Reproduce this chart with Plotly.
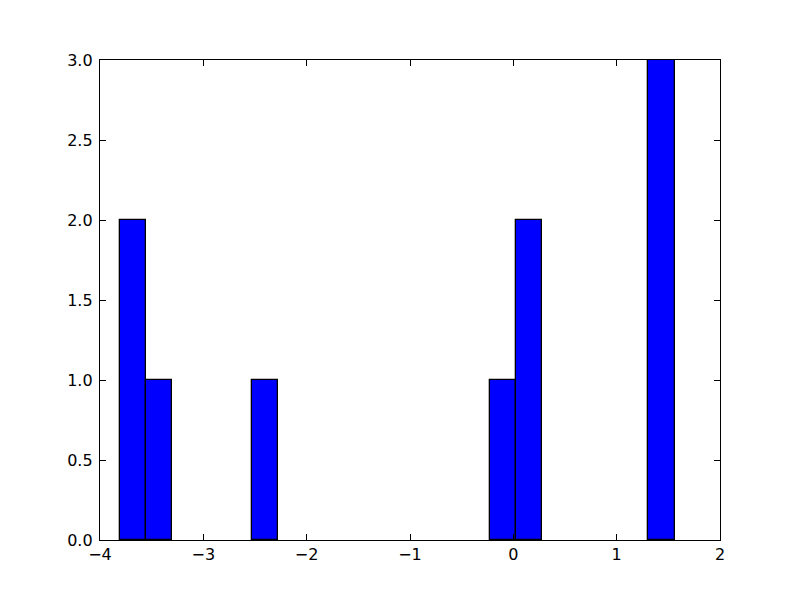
import plotly.graph_objects as go

# Histogram data: 21 equal bins
bin_start = -3.81
bin_end = 1.56
counts = [2, 1, 0, 0, 0, 1, 0, 0, 0, 0, 0, 0, 0, 0, 1, 2, 0, 0, 0, 0, 3]

x_ticks = [-4, -3, -2, -1, 0, 1, 2]
y_ticks = [0.0, 0.5, 1.0, 1.5, 2.0, 2.5, 3.0]

n = len(counts)
width = (bin_end - bin_start) / n
centers = [bin_start + (i + 0.5) * width for i in range(n)]
xs = [c for c, k in zip(centers, counts) if k > 0]
ys = [k for k in counts if k > 0]

fig = go.Figure(go.Bar(
    x=xs, y=ys, width=width,
    marker=dict(color="#0000ff", line=dict(color="black", width=1.3)),
))

axis_common = dict(
    showline=True, linecolor="black", linewidth=1.3, mirror="ticks",
    ticks="inside", ticklen=6, tickcolor="black", tickwidth=1,
    showgrid=False, zeroline=False,
    tickfont=dict(family="DejaVu Sans", size=16, color="black"),
)

fig.update_layout(
    width=800, height=600,
    margin=dict(l=92, r=88, t=52, b=68),
    paper_bgcolor="white", plot_bgcolor="white",
    showlegend=False, bargap=0,
    xaxis=dict(range=[-4, 2], tickvals=x_ticks, ticklabelstandoff=0, **axis_common),
    yaxis=dict(range=[0, 3], tickvals=y_ticks, tickformat=".1f", ticklabelstandoff=3, **axis_common),
)

fig.write_html("out.html")
